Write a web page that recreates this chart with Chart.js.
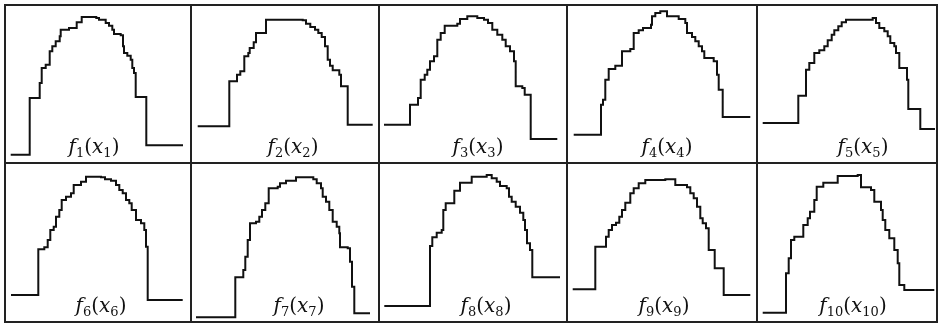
<!DOCTYPE html>
<html>
<head>
<meta charset="utf-8">
<script src="https://cdn.jsdelivr.net/npm/chart.js@4/dist/chart.umd.min.js"></script>
<style>
  html, body { margin: 0; padding: 0; background: #fff; }
  #page { position: relative; width: 939px; height: 324px; overflow: hidden; }
  .line { position: absolute; background: #222; }
  .panel { position: absolute; }
  .lbl {
    position: absolute; transform: translate(-50%, -50%);
    font-family: "DejaVu Serif", "Liberation Serif", serif; font-size: 20px;
    color: #111; white-space: nowrap; line-height: 1;
  }
  .lbl i { font-style: italic; }
  .lbl sub { font-size: 13px; vertical-align: -4px; line-height: 0; }
</style>
</head>
<body>
<div id="page"></div>
<script>
// step functions: [x where the level starts, level], last point = end of line
const f1 = [[5.7,8.3],[24.7,65],[34.7,80],[36.7,95],[40.7,98.3],[44.7,111.7],[47.3,116.7],[50.7,121.7],[54.7,126.7],[55.7,133.3],[64,135],[71.7,140.7],[76.7,146],[91.3,145],[94,143.3],[100.7,140],[104,137.3],[107.3,133.3],[109,129],[115.7,127.7],[118,116.7],[119,110],[122.3,107.3],[125.7,103.3],[127.3,95],[129,90],[130.7,66],[141.3,17.7],[178,17.7]];
const f2 = [[6.7,36.7],[38.3,81.7],[46,88.3],[49.3,91.7],[53.3,106.7],[57.3,110],[58.7,115],[62.7,120.7],[65,130],[75,143.3],[111.7,142.7],[115,139.3],[119.3,136],[124,133.3],[127.3,130],[130.7,126],[134,116.7],[136.7,103.3],[139,97.3],[141.7,92.7],[148.3,88.3],[150,76.7],[156.7,38.3],[181.7,38.3]];
const f3 = [[5,38.3],[31,58.3],[39,65],[41.7,83.3],[45.7,88.3],[48.3,93.3],[51,101.7],[55,106.7],[58.3,123.3],[61.7,130],[65.7,137.3],[78.3,139.3],[81,144],[88.3,146.7],[98.3,145],[105,143.3],[109,140],[113.3,133.3],[118.3,128.3],[123.3,123.3],[126.7,116.7],[131,111.7],[135,101.7],[136.7,76.7],[143.3,75],[145.7,68.3],[151.7,24],[178.3,24]];
const f4 = [[6.7,28.3],[34,58.3],[36,63.3],[38.3,83.3],[41.7,94],[48.3,97.3],[55,111.7],[63.3,114],[66.7,130],[71.7,132.7],[76,135],[84,138.3],[85,146.7],[88.3,150],[93.3,151.7],[100,146.7],[111.7,144],[118.3,140],[120,130],[125,126],[128.3,121.7],[131.7,116.7],[135,111.7],[137.3,105],[146.7,101.7],[150,88.3],[151.7,73.3],[155.7,46],[183.3,46]];
const f5 = [[5.7,40],[41.3,67.3],[49,93.3],[52.3,100],[57.3,110],[62.3,112.7],[67.3,116.7],[70.7,122.7],[74.7,128.3],[77.3,132.7],[81.3,136.7],[84.7,140.7],[89,143.3],[115.7,145],[119,140],[122.3,135],[127.3,131.7],[130.7,126.7],[133.3,120],[137.3,116.7],[139,110],[142.3,95],[150,83.3],[151.3,54],[163.3,34],[178,34]];
const f6 = [[6,27],[33.3,72.7],[39.3,74.7],[42.7,82],[45.3,92],[48.7,95.3],[51,105.3],[54.3,112],[56.7,122],[61,125.3],[66,128.7],[68.7,137],[76,140.3],[81,145.3],[96,144.7],[100,142.7],[106,141.3],[111,137],[114.3,132],[117.7,128.7],[121,122],[124.3,118.7],[126.7,112],[131,102],[136,98.7],[139.3,92],[141,75.3],[142.7,22],[177.7,22]];
const f7 = [[5,4.7],[44.3,44.7],[52.3,52],[54.3,65.3],[56.7,82],[59,98.7],[65,100.3],[68.3,105.3],[71,112],[74.3,118.7],[77.7,133.7],[86.7,135.3],[89,138.7],[95,141.3],[105,144.7],[122.3,142.7],[125.7,138.7],[130,133.7],[131.7,125.3],[135,120.3],[138.3,112],[141.7,100.3],[145.7,95.3],[148.3,88.7],[149,74.7],[156.7,73.7],[159,60.3],[161,35.3],[163.3,8.7],[179,8.7]];
const f8 = [[5.3,16],[51,76],[53.3,84.7],[57.7,89.3],[62.7,92],[64.3,112],[66.7,118.7],[75.3,131.3],[81,139.3],[92.7,145.3],[107.7,147],[112.7,143.7],[117.7,140.3],[121,136],[127.7,133.7],[130,125.3],[132.7,120.3],[136.7,115.3],[141,109.3],[144.3,102],[146,92],[148,78.7],[151,72],[153.3,44.7],[181,44.7]];
const f9 = [[5.7,32.7],[28.3,75.3],[39,85.3],[41.7,92],[45,97],[49,99.3],[52.3,105.3],[55,112],[58.3,119.3],[63.3,128.7],[66.7,133.7],[71.7,138.7],[78.3,142],[98.3,142.7],[108.3,137],[120,134.7],[123.3,128.7],[126.7,123.7],[130,115.3],[133.3,103.7],[135.7,98.7],[139,93.7],[141.7,72],[147.7,53.7],[156.7,27],[183.3,27]];
const f10 = [[5.7,9.3],[29,48.7],[31.7,63.7],[34,82],[37.3,85.3],[46.3,97],[50.7,103.7],[53,110.3],[57.3,122],[59.7,135.3],[66.3,139.3],[80.7,146],[100.7,147],[104,134.7],[114,132],[117.3,120.3],[124,112],[125.7,102],[128.3,92],[132.3,83.7],[137.3,72],[140.7,58.7],[142.3,37],[147.3,32],[177.3,32]];

const series = [f1, f2, f3, f4, f5, f6, f7, f8, f9, f10];
const labelIdx = ['1', '2', '3', '4', '5', '6', '7', '8', '9', '10'];

// grid layout
const colX = [5, 191, 379, 567, 757, 937];
const rowY = [5, 163, 322];
const labelCx = [89, 102, 99, 100, 106, 96, 108, 107, 97, 96];

const page = document.getElementById('page');

function addLine(l, t, w, h) {
  const d = document.createElement('div');
  d.className = 'line';
  Object.assign(d.style, { left: l + 'px', top: t + 'px', width: w + 'px', height: h + 'px' });
  page.appendChild(d);
}
colX.forEach(x => addLine(x - 1, rowY[0] - 1, 2, rowY[2] - rowY[0] + 2));
rowY.forEach(y => addLine(colX[0] - 1, y - 1, colX[5] - colX[0] + 2, 2));

series.forEach((pts, i) => {
  const r = Math.floor(i / 5), c = i % 5;
  const w = colX[c + 1] - colX[c], h = rowY[r + 1] - rowY[r];

  const box = document.createElement('div');
  box.className = 'panel';
  Object.assign(box.style, { left: colX[c] + 'px', top: rowY[r] + 'px', width: w + 'px', height: h + 'px' });
  const cv = document.createElement('canvas');
  box.appendChild(cv);
  page.appendChild(box);

  new Chart(cv, {
    type: 'line',
    data: {
      datasets: [{
        data: pts.map(p => ({ x: p[0], y: p[1] })),
        stepped: true,
        borderColor: '#111',
        borderWidth: 2,
        pointRadius: 0,
        fill: false
      }]
    },
    options: {
      responsive: true,
      maintainAspectRatio: false,
      animation: false,
      events: [],
      layout: { padding: 0 },
      plugins: { legend: { display: false }, tooltip: { enabled: false } },
      scales: {
        x: { type: 'linear', min: 0, max: w, display: false },
        y: { min: 0, max: h, display: false }
      }
    }
  });

  const lbl = document.createElement('div');
  lbl.className = 'lbl';
  lbl.innerHTML = '<i>f</i><sub>' + labelIdx[i] + '</sub>(<i>x</i><sub>' + labelIdx[i] + '</sub>)';
  lbl.style.left = (colX[c] + labelCx[i]) + 'px';
  lbl.style.top = (rowY[r + 1] - 17) + 'px';
  page.appendChild(lbl);
});
</script>
</body>
</html>
